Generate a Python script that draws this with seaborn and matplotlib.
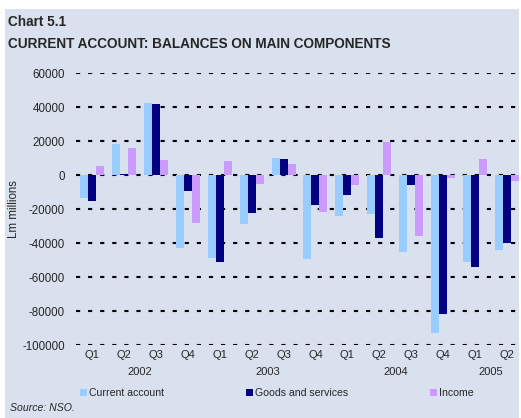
import pandas as pd
import seaborn as sns
import matplotlib
matplotlib.use("Agg")
import matplotlib.pyplot as plt
from matplotlib.patches import Rectangle

# quarterly balances, Lm millions
quarters = ["Q1", "Q2", "Q3", "Q4", "Q1", "Q2", "Q3", "Q4",
            "Q1", "Q2", "Q3", "Q4", "Q1", "Q2"]
years = ["2002", "2003", "2004", "2005"]
current_account = [-13700, 18200, 42300, -42700, -48600, -28600, 10000,
                   -49200, -23900, -22700, -45100, -92700, -51000, -43900]
goods_services = [-15100, 600, 41800, -9200, -51000, -22200, 9400,
                  -17500, -11600, -36900, -5700, -81600, -53900, -39800]
income = [5300, 15900, 8800, -28000, 8200, -5100, 6500,
          -21600, -5700, 19400, -35700, -1600, 9400, -3300]

series_names = ["Current account", "Goods and services", "Income"]
palette = ["#99CCFF", "#000080", "#CC99FF"]
bg = "#D9E0EE"

periods = [f"{q}-{i}" for i, q in enumerate(quarters)]
df = pd.DataFrame({
    "period": periods * 3,
    "series": sum([[s] * len(periods) for s in series_names], []),
    "value": current_account + goods_services + income,
})

sns.set_theme(style="white")
plt.rcParams["font.family"] = ["Liberation Sans", "DejaVu Sans"]

fig = plt.figure(figsize=(5.21, 4.18), dpi=100)
fig.patch.set_facecolor("white")
fig.patches.append(Rectangle((5 / 521, 0), 514 / 521, 409 / 418,
                             transform=fig.transFigure, facecolor=bg,
                             edgecolor="none", zorder=-10))

ax = fig.add_axes([76 / 521, (418 - 345) / 418, 447 / 521, 272 / 418])
ax.patch.set_alpha(0)

sns.barplot(data=df, x="period", y="value", hue="series", order=periods,
            hue_order=series_names, palette=palette, width=0.75,
            saturation=1, linewidth=0, ax=ax, legend=False, zorder=3)

ax.set_ylim(-100000, 60000)
ax.set_xlim(-0.5, len(periods) - 0.5)
ax.set_yticks(range(-100000, 60001, 20000))
ax.set_yticklabels([str(v) for v in range(-100000, 60001, 20000)], fontsize=8.3)
ax.yaxis.grid(True, color="black", linewidth=1.5, linestyle=(0, (2, 3.8)), zorder=1)
ax.set_axisbelow(True)
ax.tick_params(axis="y", length=0, pad=8)
ax.set_xticks(range(len(periods)))
ax.set_xticklabels(quarters, fontsize=8)
ax.tick_params(axis="x", length=0, pad=3.5)
for s in ax.spines.values():
    s.set_visible(False)
ax.set_xlabel("")
ax.set_ylabel("Lm millions", fontsize=8.3)
ax.yaxis.set_label_coords(-56 / 447, 0.5)

# year labels under the quarter labels
year_pos = [1.5, 5.5, 9.5, 12.5]
for x, y in zip(year_pos, years):
    ax.text(x, -0.08, y, transform=ax.get_xaxis_transform(),
            ha="center", va="top", fontsize=8)

# legend row
legend_x = [80, 246, 430]
for lx, name, col in zip(legend_x, series_names, palette):
    fig.patches.append(Rectangle((lx / 521, (418 - 396) / 418), 7 / 521, 7 / 418,
                                 transform=fig.transFigure, facecolor=col,
                                 edgecolor="none"))
    fig.text((lx + 9) / 521, (418 - 392.5) / 418, name, fontsize=7.6,
             va="center", ha="left")

fig.text(10 / 521, (418 - 408) / 418, "Source: NSO.", fontsize=7.6,
         style="italic", va="center")
fig.text(8 / 521, (418 - 22) / 418, "Chart 5.1", fontsize=9.8,
         fontweight="bold", va="center")
fig.text(8 / 521, (418 - 44) / 418, "CURRENT ACCOUNT: BALANCES ON MAIN COMPONENTS",
         fontsize=9.8, fontweight="bold", va="center")

fig.savefig("out.png", dpi=100, facecolor=fig.get_facecolor())
